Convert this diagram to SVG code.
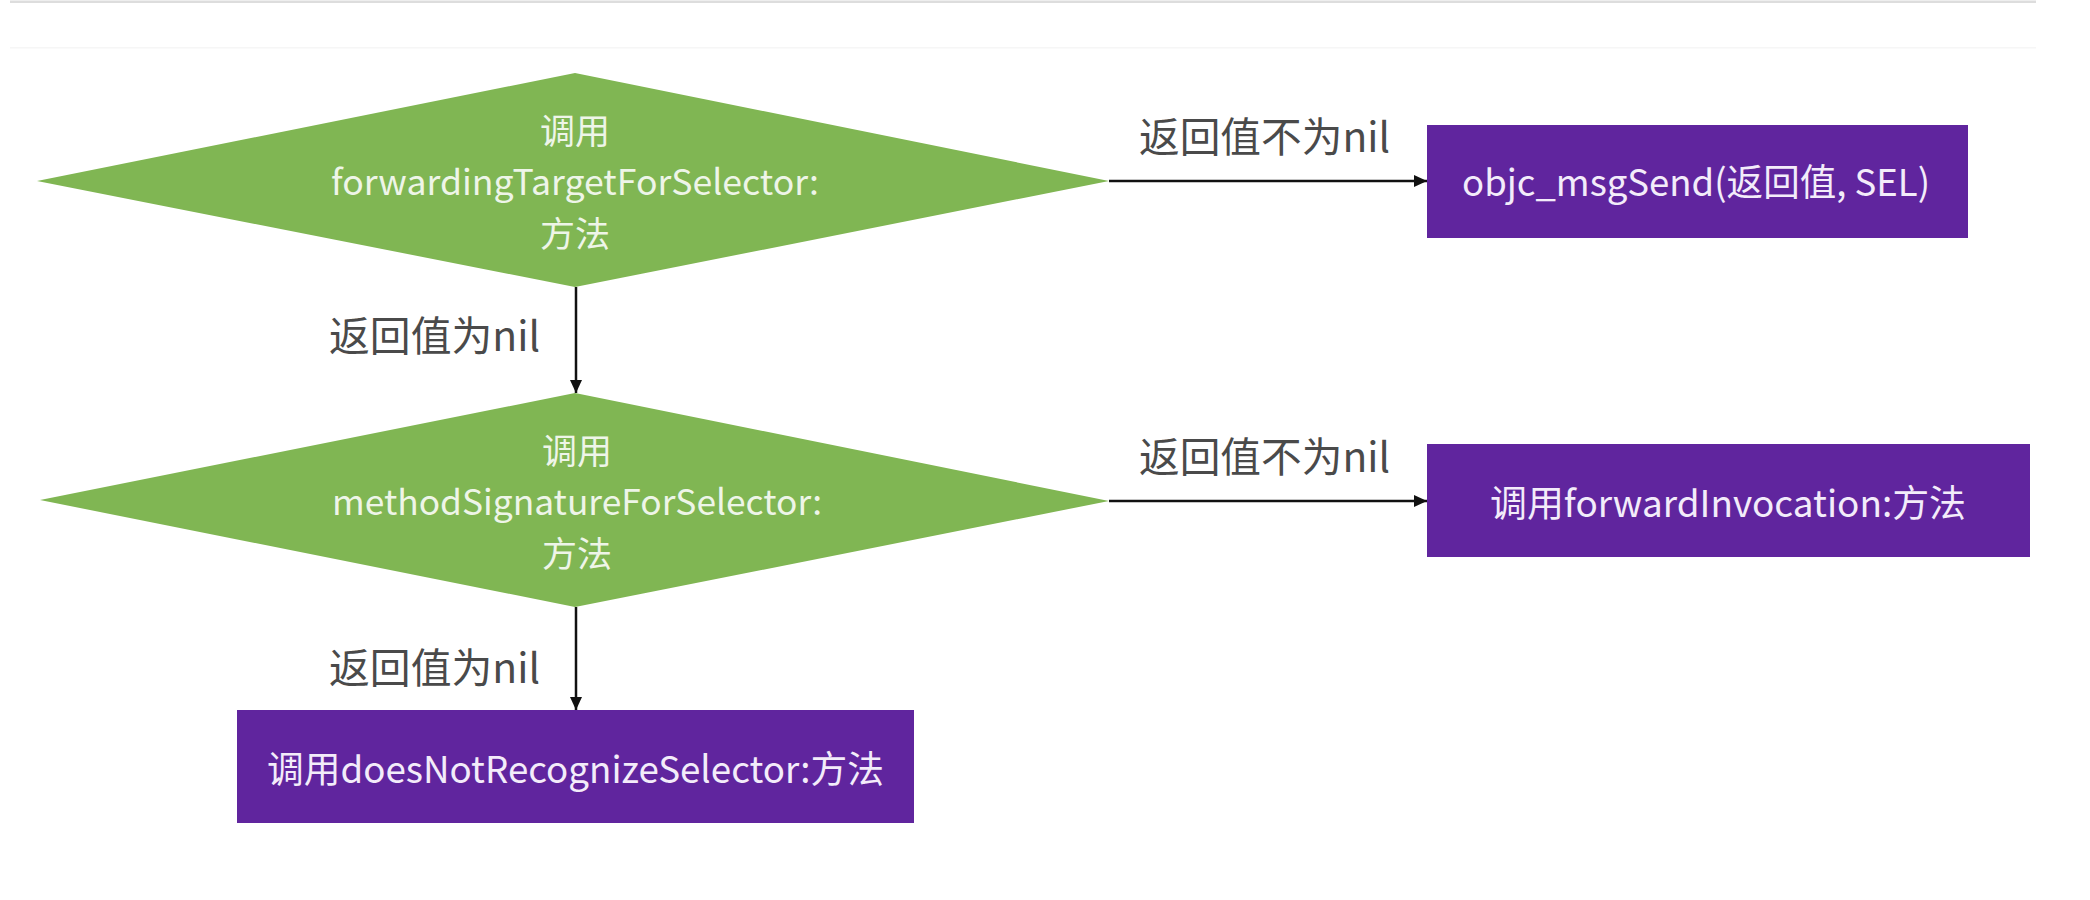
<svg xmlns="http://www.w3.org/2000/svg" width="2090" height="900" viewBox="0 0 2090 900">
  <style>
    .decision { fill: #80b653; }
    .process { fill: #60259e; }
    .dtext { fill: #eef5e8; font-family: "Noto Sans CJK SC", "Noto Sans", sans-serif; font-size: 35px; text-anchor: middle; }
    .ptext { fill: #f3ecfa; font-family: "Noto Sans CJK SC", "Noto Sans", sans-serif; font-size: 37px; text-anchor: middle; }
    .label { fill: #4a4a4a; font-family: "Noto Sans CJK SC", "Noto Sans", sans-serif; font-size: 41px; }
    .conn { stroke: #111111; stroke-width: 2.5; fill: none; }
  </style>
  <defs>
    <marker id="arrow" markerUnits="userSpaceOnUse" markerWidth="14" markerHeight="12" refX="13" refY="6" orient="auto">
      <path d="M0,0 L13,6 L0,12 z" fill="#111111"/>
    </marker>
  </defs>
  <rect x="0" y="0" width="2090" height="900" fill="#ffffff"/>
  <rect x="10" y="0.5" width="2026" height="2.5" fill="#dddddd"/>
  <rect x="10" y="47" width="2026" height="1.5" fill="#f6f6f6"/>

  <g id="connectors">
    <line class="conn" x1="1109" y1="181" x2="1427" y2="181" marker-end="url(#arrow)"/>
    <line class="conn" x1="576" y1="287" x2="576" y2="393" marker-end="url(#arrow)"/>
    <line class="conn" x1="1109" y1="501" x2="1427" y2="501" marker-end="url(#arrow)"/>
    <line class="conn" x1="576" y1="607" x2="576" y2="710" marker-end="url(#arrow)"/>
  </g>

  <g id="labels">
    <text class="label" x="1139" y="152" textLength="251" lengthAdjust="spacingAndGlyphs">返回值不为nil</text>
    <text class="label" x="329" y="351" textLength="211" lengthAdjust="spacingAndGlyphs">返回值为nil</text>
    <text class="label" x="1139" y="472" textLength="251" lengthAdjust="spacingAndGlyphs">返回值不为nil</text>
    <text class="label" x="329" y="683" textLength="211" lengthAdjust="spacingAndGlyphs">返回值为nil</text>
  </g>

  <g id="node-forwardingTarget">
    <polygon class="decision" points="37,181 575,73 1109,181 575,287"/>
    <text class="dtext" x="575" y="144">调用</text>
    <text class="dtext" x="575" y="195" textLength="488" lengthAdjust="spacingAndGlyphs">forwardingTargetForSelector:</text>
    <text class="dtext" x="575" y="247">方法</text>
  </g>

  <g id="node-msgSend">
    <rect class="process" x="1427" y="125" width="541" height="113"/>
    <text class="ptext" x="1696" y="196" textLength="468" lengthAdjust="spacingAndGlyphs">objc_msgSend(返回值, SEL)</text>
  </g>

  <g id="node-methodSignature">
    <polygon class="decision" points="40,500 575,393 1109,501 575,607"/>
    <text class="dtext" x="577" y="464">调用</text>
    <text class="dtext" x="577" y="515" textLength="490" lengthAdjust="spacingAndGlyphs">methodSignatureForSelector:</text>
    <text class="dtext" x="577" y="567">方法</text>
  </g>

  <g id="node-forwardInvocation">
    <rect class="process" x="1427" y="444" width="603" height="113"/>
    <text class="ptext" x="1728" y="517" textLength="476" lengthAdjust="spacingAndGlyphs">调用forwardInvocation:方法</text>
  </g>

  <g id="node-doesNotRecognize">
    <rect class="process" x="237" y="710" width="677" height="113"/>
    <text class="ptext" x="575.5" y="783" textLength="617" lengthAdjust="spacingAndGlyphs">调用doesNotRecognizeSelector:方法</text>
  </g>
</svg>
